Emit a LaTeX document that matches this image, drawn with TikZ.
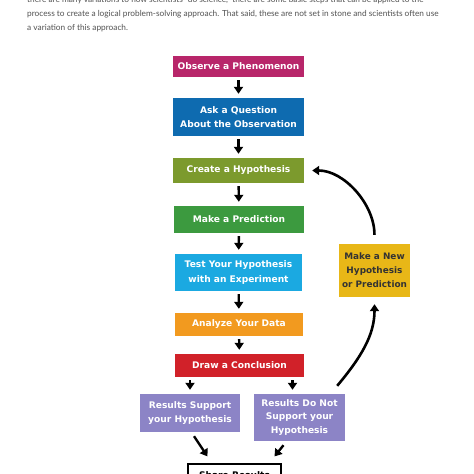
\documentclass[tikz,border=0pt]{standalone}
\usepackage{fontspec}
\setmainfont{Lato}
\setsansfont{DejaVu Sans}
\usetikzlibrary{arrows.meta, positioning}
\definecolor{obscol}{HTML}{B8266A}
\definecolor{askcol}{HTML}{0E6BB0}
\definecolor{hypcol}{HTML}{7C9A2D}
\definecolor{predcol}{HTML}{3C9A3F}
\definecolor{testcol}{HTML}{1BA9E1}
\definecolor{datacol}{HTML}{F29A1F}
\definecolor{conclcol}{HTML}{D12129}
\definecolor{rescol}{HTML}{8C84C6}
\definecolor{newcol}{HTML}{E8B717}

\begin{document}
\begin{tikzpicture}[x=1pt, y=-1pt, >={Triangle[width=9pt,length=7pt]},
    stepbox/.style={minimum width=131pt, minimum height=#1, inner sep=0pt,
        align=center, text=white, font=\sffamily\bfseries\fontsize{9.1}{14.5}\selectfont},
    arr/.style={->, line width=2.4pt, shorten <=3pt, shorten >=4pt},
    backarrow/.style={->, line width=2.6pt}]
    \clip (0,0) rectangle (474,474);
    \fill[white] (0,0) rectangle (474,474);
    % intro text, first line cut by the page top
    \node[anchor=north west, align=left, inner sep=0pt, text=black!68,
        font=\fontsize{8.3}{14}\selectfont] (intro) at (27,-4)
        {there are many variations to how scientists ``do science,'' there are some basic steps that can be applied to the\\
         process to create a logical problem-solving approach. That said, these are not set in stone and scientists often use\\
         a variation of this approach.};
    % main steps
    \node[stepbox=21pt, fill=obscol] (obs) at (238.5,66.5) {Observe a Phenomenon};
    \node[stepbox=38pt, fill=askcol] (ask) at (238.5,117) {Ask a Question\\About the Observation};
    \node[stepbox=25pt, fill=hypcol] (hyp) at (238.5,170.5) {Create a Hypothesis};
    \node[stepbox=27pt, fill=predcol, minimum width=130pt] (pred) at (239,219.5) {Make a Prediction};
    \node[stepbox=37pt, fill=testcol, minimum width=127pt] (test) at (238.5,272.5) {Test Your Hypothesis\\with an Experiment};
    \node[stepbox=23pt, fill=datacol, minimum width=128pt] (data) at (239,324.5) {Analyze Your Data};
    \node[stepbox=23pt, fill=conclcol, minimum width=129pt] (concl) at (239.5,365.5) {Draw a Conclusion};
    % outcomes
    \node[stepbox=38pt, fill=rescol, minimum width=100pt] (yes) at (190,413) {Results Support\\your Hypothesis};
    \node[stepbox=47pt, fill=rescol, minimum width=91pt, font=\sffamily\bfseries\fontsize{9.1}{13.5}\selectfont]
        (no) at (299.5,417.5) {Results Do Not\\Support your\\Hypothesis};
    \node[stepbox=53pt, fill=newcol, minimum width=71pt, text=black!80,
        font=\sffamily\bfseries\fontsize{8.9}{14}\selectfont] (newhyp) at (374.5,270.5) {Make a New\\Hypothesis\\or Prediction};
    \node[draw, line width=1.2pt, minimum width=93pt, minimum height=22pt, inner sep=0pt,
        font=\sffamily\bfseries\fontsize{9.1}{10}\selectfont] (share) at (234.5,475) {Share Results};
    % connectors
    \draw[arr] (obs) -- (ask);
    \draw[arr] (ask) -- (hyp);
    \draw[arr] (hyp) -- (pred);
    \draw[arr] (pred) -- (test);
    \draw[arr] (test) -- (data);
    \draw[arr] (data) -- (concl);
    \draw[arr] (yes.north |- concl.south) -- (yes.north);
    \draw[arr] ([xshift=-7pt]no.north |- concl.south) -- ([xshift=-7pt]no.north);
    \coordinate (yesout) at ([xshift=4pt,yshift=-4pt]yes.south);
    \coordinate (noout) at ([xshift=-16pt,yshift=-4pt]no.south);
    \draw[->, line width=2.4pt] (yesout) -- ([xshift=-27pt,yshift=7pt]share.north);
    \draw[->, line width=2.4pt] (noout) -- ([xshift=40pt,yshift=7pt]share.north);
    \draw[backarrow, shorten <=9pt, shorten >=8pt] (newhyp.north) to[out=90, in=0] (hyp.east);
    \draw[backarrow, shorten >=7pt] ([xshift=-8pt,yshift=8pt]no.north east) to[out=50, in=-90] (newhyp.south);
\end{tikzpicture}
\end{document}
